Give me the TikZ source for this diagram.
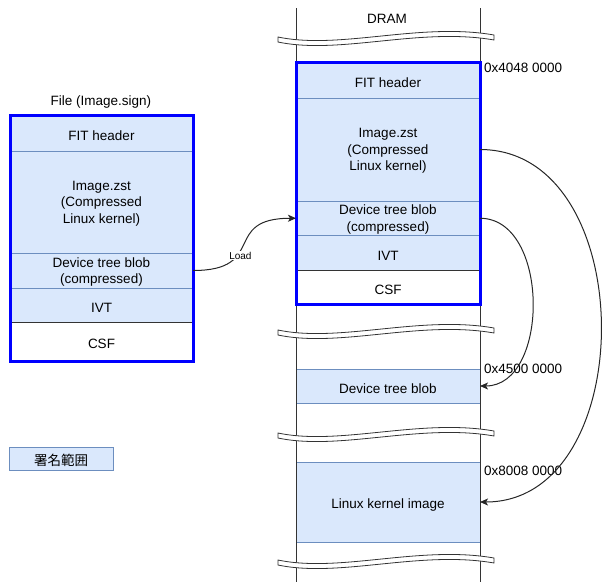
\documentclass[tikz,border=0pt]{standalone}
\usepackage{fontspec}
\setmainfont{Liberation Sans}
\newfontfamily\cjk{Noto Sans CJK JP}
\usetikzlibrary{arrows.meta}
\definecolor{cellblue}{HTML}{DAE8FC}
\definecolor{rowline}{HTML}{6C8EBF}
\tikzset{
  cell/.style={draw=rowline, fill=cellblue, line width=1pt, minimum width=183pt, inner sep=0pt, outer sep=0pt, align=center, font=\fontsize{13.5}{16.5}\selectfont, execute at begin node={\rule{0pt}{15pt}}},
  lowtext/.style={text depth=-8pt},
  csfcell/.style={cell, draw=black!80, fill=white},
  signbox/.style={draw=blue, line width=3pt},
  txt/.style={font=\fontsize{13.5}{16.5}\selectfont, inner sep=0pt},
  memline/.style={draw=black!80, line width=1pt},
  gapline/.style={draw=black!80, fill=white, line width=0.8pt},
  link/.style={draw=black!85, line width=1pt, -{Stealth[length=8pt,width=7pt,inset=2pt]}}
}

\begin{document}
\begin{tikzpicture}[x=1pt, y=-1pt]
\useasboundingbox (0,0) rectangle (602,582);

% file on storage
\node[txt] (ftitle) at (101,102) {File (Image.sign)};
\node[cell, minimum height=36pt] (fhdr) at (101.5,133) {FIT header};
\node[cell, lowtext, minimum height=102pt] (fimg) at (101.5,202) {Image.zst\\(Compressed\\Linux kernel)};
\node[cell, lowtext, minimum height=35pt] (fdtb) at (101.5,270.5) {Device tree blob\\(compressed)};
\node[cell, minimum height=34pt] (fivt) at (101.5,305) {IVT};
\node[csfcell, minimum height=39pt] (fcsf) at (101.5,341.5) {CSF};
\draw[signbox] (fhdr.north west) rectangle (fcsf.south east);

% DRAM
\node[txt] (dram) at (387,19) {DRAM};
\node[cell, minimum width=184pt, minimum height=36pt] (dhdr) at (388,80) {FIT header};
\node[cell, lowtext, minimum width=184pt, minimum height=103pt] (dimg) at (388,149.5) {Image.zst\\(Compressed\\Linux kernel)};
\node[cell, lowtext, minimum width=184pt, minimum height=34.5pt] (ddtb) at (388,218.25) {Device tree blob\\(compressed)};
\node[cell, minimum width=184pt, minimum height=34.5pt] (divt) at (388,252.75) {IVT};
\node[csfcell, minimum width=184pt, minimum height=34pt] (dcsf) at (388,287) {CSF};
\node[cell, minimum width=184pt, minimum height=34pt] (dtb) at (388,386) {Device tree blob};
\node[cell, minimum width=184pt, minimum height=80pt] (kern) at (388,502) {Linux kernel image};
\draw[memline] (296,8) -- (296,582);
\draw[memline] (480,8) -- (480,582);
\draw[signbox] (dhdr.north west) rectangle (dcsf.south east);

% breaks in the address space
\draw[gapline] (278,37) .. controls (340,50) and (420,22) .. (494,35) -- (494,40) .. controls (420,27) and (340,55) .. (278,42) -- cycle;
\draw[gapline] (278,330) .. controls (340,343) and (420,315) .. (494,328) -- (494,333) .. controls (420,320) and (340,348) .. (278,335) -- cycle;
\draw[gapline] (278,433) .. controls (340,446) and (420,418) .. (494,431) -- (494,436) .. controls (420,423) and (340,451) .. (278,438) -- cycle;
\draw[gapline] (278,560) .. controls (340,573) and (420,545) .. (494,558) -- (494,563) .. controls (420,550) and (340,578) .. (278,565) -- cycle;

% addresses
\node[txt, anchor=west] (adr1) at (484,68) {0x4048 0000};
\node[txt, anchor=west] (adr2) at (484,369) {0x4500 0000};
\node[txt, anchor=west] (adr3) at (484,471) {0x8008 0000};

% legend
\node[cell, minimum width=104pt, minimum height=23pt] (legend) at (61,458.5) {\cjk 署名範囲};

% copies
\draw[link] (fdtb.east) .. controls +(75,0) and +(-75,0) .. (ddtb.west)
  node[pos=0.35, xshift=3pt, fill=white, inner sep=1pt, font=\fontsize{10}{12}\selectfont] {Load};
\draw[link] (dimg.east) .. controls +(161,0) and +(161,0) .. (kern.east);
\draw[link] (ddtb.east) .. controls +(70,0) and +(70,0) .. (dtb.east);
\end{tikzpicture}
\end{document}
